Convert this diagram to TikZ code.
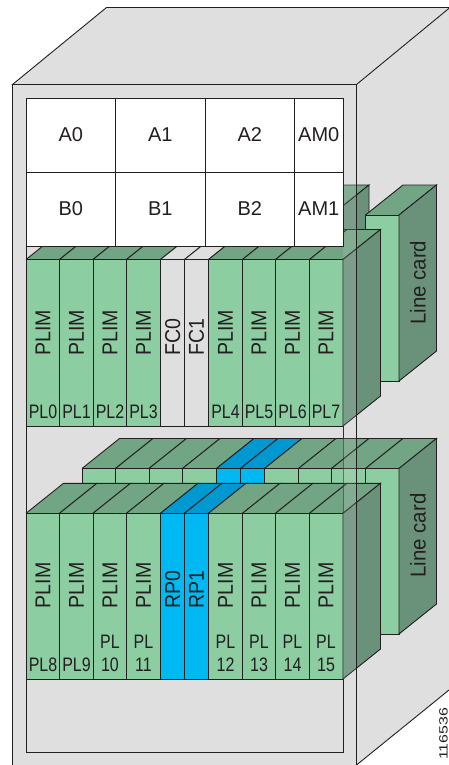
\documentclass[tikz,border=0pt]{standalone}
\usepackage{fontspec}
\setmainfont{Liberation Sans}
\definecolor{frontg}{HTML}{8CCDA2}
\definecolor{topg}{HTML}{72A583}
\definecolor{sideg}{HTML}{6A927B}
\definecolor{cab}{HTML}{DFDFDF}
\definecolor{bluef}{HTML}{00B9F2}
\definecolor{bluet}{HTML}{0098D0}
\definecolor{ink}{HTML}{231F20}
\tikzset{
  edge/.style={draw=ink,line width=.9pt,line join=miter},
  lab/.style={font=\fontsize{20}{21}\selectfont,text=ink,inner sep=0pt},
  vlab/.style={font=\fontsize{21.5}{22}\selectfont,text=ink,inner sep=0pt,rotate=90,anchor=west},
  cond/.style={font=\fontsize{19.5}{20}\selectfont,text=ink,inner sep=0pt,transform shape,xscale=.82,anchor=center},
}
\newcommand{\cardface}[6]{%
  \fill[#6] (#1,#3) -- ++(37.5,-30) -- ++(#2-#1,0) -- (#2,#3) -- cycle;
  \draw[edge] (#1,#3) -- ++(37.5,-30) -- ++(#2-#1,0) -- (#2,#3);
  \draw[edge,fill=#5] (#1,#3) rectangle (#2,#4);
}
\newcommand{\cardside}[3]{%
  \draw[edge,fill=sideg] (#1,#2) -- ++(37.5,-30) -- ++(0,#3-#2) -- (#1,#3) -- cycle;
}
\newcommand{\cardrow}[5]{%
  \foreach \a/\b/\f/\t in {26/59.5/frontg/topg,59.5/93/frontg/topg,93/126.5/frontg/topg,126.5/160.5/frontg/topg,160.5/184.5/#4/#5,184.5/208.5/#4/#5,208.5/242.5/frontg/topg,242.5/275.5/frontg/topg,275.5/309.5/frontg/topg,309.5/343/frontg/topg}{
    \pgfmathsetmacro\aa{\a+#1}\pgfmathsetmacro\bb{\b+#1}
    \cardface{\aa}{\bb}{#2}{#3}{\f}{\t}
  }
  \pgfmathsetmacro\rr{343+#1}
  \cardside{\rr}{#2}{#3}
}
\begin{document}
\begin{tikzpicture}[x=1pt,y=-1pt]
\useasboundingbox (0,0) rectangle (449,765);
\begin{scope}
\clip (0,0) rectangle (449,765);
% cabinet
\fill[cab] (356.5,84.5) -- (450,7.5) -- (449,690) -- (356.5,765) -- cycle;
\draw[edge,fill=cab] (12.5,84.5) -- (106.5,7.5) -- (450,7.5) -- (356.5,84.5) -- cycle;
\draw[edge] (356.5,765) -- (449,690);
\draw[edge,fill=cab] (12.5,84.5) rectangle (356.5,775);
\draw[edge,fill=cab] (26,98.5) rectangle (343,752.7);
% upper back row (visible remainder) and line card
\cardface{298}{331.5}{215}{381}{frontg}{topg}
\cardside{331.5}{215}{381}
\cardface{365.5}{399}{215}{381}{frontg}{topg}
\cardside{399}{215}{381}
% upper front row
\cardrow{0}{259.5}{426}{cab}{cab}
% lower back row
\cardrow{56}{468.5}{634}{bluef}{bluet}
% lower front row
\cardrow{0}{513.3}{679}{bluef}{bluet}
% translucent frame strip
\fill[cab,opacity=.15] (343,98) rectangle (356.5,765);
\draw[ink,opacity=.5,line width=.9pt] (343,426) -- (343,513);
\draw[edge] (343,679) -- (343,752.7);
\draw[edge] (356.5,84.5) -- (356.5,775);
\end{scope}
% white boxes
\foreach \n/\t/\x/\y/\X/\Y in {a0/A0/26/98.5/115.5/172.5,a1/A1/115.5/98.5/205/172.5,a2/A2/205/98.5/294.5/172.5,am0/AM0/294.5/98.5/343/172.5,b0/B0/26/172.5/115.5/246,b1/B1/115.5/172.5/205/246,b2/B2/205/172.5/294.5/246,am1/AM1/294.5/172.5/343/246}{
  \draw[edge,fill=white] (\x,\y) rectangle (\X,\Y);
  \node[lab] (\n) at ({(\x+\X)/2},{(\y+\Y)/2-.5}) {\t};
}
% rotated labels
\foreach \n/\x/\t in {u0/43/PLIM,u1/76.5/PLIM,u2/110/PLIM,u3/143.5/PLIM,fc0/172.7/FC0,fc1/196.5/FC1,u4/225.5/PLIM,u5/259/PLIM,u6/292.5/PLIM,u7/326/PLIM}{
  \node[vlab] (\n) at (\x,355.7) {\scalebox{.91}[1]{\t}};
}
\foreach \n/\x/\t in {l0/43/PLIM,l1/76.5/PLIM,l2/110/PLIM,l3/143.5/PLIM,rp0/172.7/RP0,rp1/196.5/RP1,l4/225.5/PLIM,l5/259/PLIM,l6/292.5/PLIM,l7/326/PLIM}{
  \node[vlab] (\n) at (\x,608.5) {\scalebox{.91}[1]{\t}};
}
\node[vlab] (lc1) at (418,325) {\scalebox{.95}[1]{Line card}};
\node[vlab] (lc2) at (418,577.8) {\scalebox{.95}[1]{Line card}};
% slot labels
\foreach \n/\x/\t in {p0/43/PL0,p1/76.5/PL1,p2/110/PL2,p3/143.5/PL3,p4/225.5/PL4,p5/259/PL5,p6/292.5/PL6,p7/326/PL7}{
  \node[cond] (\n) at (\x,412) {\t};
}
\foreach \n/\x/\t in {p8/43/PL8,p9/76.5/PL9}{
  \node[cond] (\n) at (\x,665) {\t};
}
\foreach \n/\x/\t in {p10/110/10,p11/143.5/11,p12/225.5/12,p13/259/13,p14/292.5/14,p15/326/15}{
  \node[cond] (\n a) at (\x,641.5) {PL};
  \node[cond] (\n b) at (\x,665) {\t};
}
\node[inner sep=0pt,rotate=90,anchor=west,text=ink,font=\fontsize{12}{13}\selectfont] (id) at (443.5,760) {\scalebox{1.33}[1]{116536}};
\end{tikzpicture}
\end{document}
